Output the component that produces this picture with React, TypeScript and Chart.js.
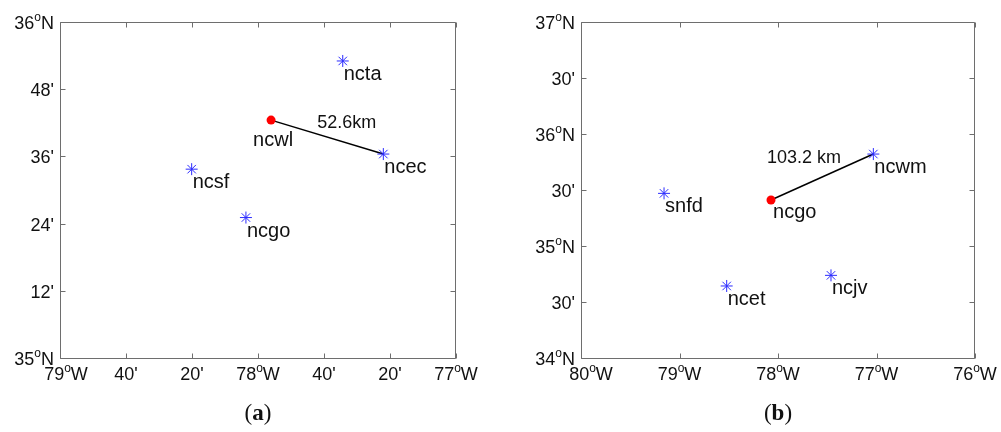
import { useEffect, useRef } from 'react';
import { Chart, registerables } from 'chart.js';

Chart.register(...registerables);

// ---------- Panel (a) data ----------
const aStations = ['ncta', 'ncec', 'ncsf', 'ncgo'];
const aStationLon = [-77.572, -77.367, -78.335, -78.061];
const aStationLat = [35.884, 35.607, 35.562, 35.418];
const aHub = 'ncwl';
const aHubLon = -77.934;
const aHubLat = 35.708;
const aLinkTo = 'ncec';
const aDistanceText = '52.6km';
const aDistanceLon = -77.552;
const aDistanceLat = 35.684;
const aXRange = [-79, -77];
const aYRange = [35, 36];
const aXTicks = [-79, -78.6667, -78.3333, -78, -77.6667, -77.3333, -77];
const aXTickLabels = ['79°W', "40'", "20'", '78°W', "40'", "20'", '77°W'];
const aYTicks = [35, 35.2, 35.4, 35.6, 35.8, 36];
const aYTickLabels = ['35°N', "12'", "24'", "36'", "48'", '36°N'];
const aCaption = 'a';

// ---------- Panel (b) data ----------
const bStations = ['ncwm', 'snfd', 'ncet', 'ncjv'];
const bStationLon = [-77.032, -79.157, -78.521, -77.462];
const bStationLat = [35.821, 35.47, 34.643, 34.738];
const bHub = 'ncgo';
const bHubLon = -78.071;
const bHubLat = 35.411;
const bLinkTo = 'ncwm';
const bDistanceText = '103.2 km';
const bDistanceLon = -77.736;
const bDistanceLat = 35.738;
const bXRange = [-80, -76];
const bYRange = [34, 37];
const bXTicks = [-80, -79, -78, -77, -76];
const bXTickLabels = ['80°W', '79°W', '78°W', '77°W', '76°W'];
const bYTicks = [34, 34.5, 35, 35.5, 36, 36.5, 37];
const bYTickLabels = ['34°N', "30'", '35°N', "30'", '36°N', "30'", '37°N'];
const bCaption = 'b';

type PanelData = {
  stations: string[];
  lon: number[];
  lat: number[];
  hub: string;
  hubLon: number;
  hubLat: number;
  linkTo: string;
  distText: string;
  distLon: number;
  distLat: number;
  xRange: number[];
  yRange: number[];
  xTicks: number[];
  xTickLabels: string[];
  yTicks: number[];
  yTickLabels: string[];
  caption: string;
};

type PanelLayout = {
  left: number;
  width: number;
  yAxisWidth: number;
  padRight: number;
  hubLabelDx: number;
  hubLabelDy: number;
  firstXLabelDx: number;
};

const panelA: PanelData = {
  stations: aStations, lon: aStationLon, lat: aStationLat,
  hub: aHub, hubLon: aHubLon, hubLat: aHubLat, linkTo: aLinkTo,
  distText: aDistanceText, distLon: aDistanceLon, distLat: aDistanceLat,
  xRange: aXRange, yRange: aYRange,
  xTicks: aXTicks, xTickLabels: aXTickLabels, yTicks: aYTicks, yTickLabels: aYTickLabels,
  caption: aCaption,
};

const panelB: PanelData = {
  stations: bStations, lon: bStationLon, lat: bStationLat,
  hub: bHub, hubLon: bHubLon, hubLat: bHubLat, linkTo: bLinkTo,
  distText: bDistanceText, distLon: bDistanceLon, distLat: bDistanceLat,
  xRange: bXRange, yRange: bYRange,
  xTicks: bXTicks, xTickLabels: bXTickLabels, yTicks: bYTicks, yTickLabels: bYTickLabels,
  caption: bCaption,
};

const layoutA: PanelLayout = { left: 0, width: 500, yAxisWidth: 60, padRight: 44, hubLabelDx: -18, hubLabelDy: 26, firstXLabelDx: 6 };
const layoutB: PanelLayout = { left: 500, width: 501, yAxisWidth: 81, padRight: 26, hubLabelDx: 2, hubLabelDy: 18, firstXLabelDx: 10 };

const HEIGHT = 432;
const PLOT_TOP = 22;
const PLOT_BOTTOM = 358;
const SANS = '"Liberation Sans", Arial, Helvetica, sans-serif';
const AXIS_COLOR = '#6e6e6e';
const TEXT_COLOR = '#111111';

function drawDegLabel(ctx: CanvasRenderingContext2D, text: string, x: number, y: number, align: 'center' | 'right') {
  const big = `18px ${SANS}`;
  const small = `12px ${SANS}`;
  const idx = text.indexOf('°');
  const parts: { t: string; font: string; dy: number }[] = [];
  if (idx >= 0) {
    parts.push({ t: text.slice(0, idx), font: big, dy: 0 });
    parts.push({ t: 'o', font: small, dy: -8 });
    parts.push({ t: text.slice(idx + 1), font: big, dy: 0 });
  } else {
    parts.push({ t: text, font: big, dy: 0 });
  }
  let total = 0;
  const widths = parts.map((p) => {
    ctx.font = p.font;
    const w = ctx.measureText(p.t).width;
    total += w;
    return w;
  });
  let cx = align === 'center' ? x - total / 2 : x - total;
  ctx.textAlign = 'left';
  ctx.textBaseline = 'alphabetic';
  parts.forEach((p, i) => {
    ctx.font = p.font;
    ctx.fillText(p.t, cx, y + p.dy);
    cx += widths[i];
  });
}

const mapDecor = {
  id: 'mapDecor',
  afterDraw(chart: any, _args: any, opts: any) {
    const data: PanelData = opts.data;
    const lay: PanelLayout = opts.layout;
    const { ctx, chartArea: a, scales } = chart;
    const xs = scales.x;
    const ys = scales.y;
    ctx.save();

    // frame
    const L = Math.floor(a.left) + 0.5;
    const T = Math.floor(a.top) + 0.5;
    const R = Math.ceil(a.right) - 0.5;
    const B = Math.floor(a.bottom) + 0.5;
    ctx.strokeStyle = AXIS_COLOR;
    ctx.lineWidth = 1;
    ctx.beginPath();
    ctx.moveTo(L, T); ctx.lineTo(R, T); ctx.lineTo(R, B); ctx.lineTo(L, B); ctx.closePath();
    ctx.stroke();

    // inward ticks on all four sides
    const TL = 5;
    ctx.beginPath();
    data.xTicks.forEach((v) => {
      const px = Math.round(xs.getPixelForValue(v)) + 0.5;
      ctx.moveTo(px, B); ctx.lineTo(px, B - TL);
      ctx.moveTo(px, T); ctx.lineTo(px, T + TL);
    });
    data.yTicks.forEach((v) => {
      const py = Math.round(ys.getPixelForValue(v)) + 0.5;
      ctx.moveTo(L, py); ctx.lineTo(L + TL, py);
      ctx.moveTo(R, py); ctx.lineTo(R - TL, py);
    });
    ctx.stroke();

    // tick labels
    ctx.fillStyle = TEXT_COLOR;
    data.xTicks.forEach((v, i) => {
      const px = xs.getPixelForValue(v) + (i === 0 ? lay.firstXLabelDx : 0);
      drawDegLabel(ctx, data.xTickLabels[i], px, a.bottom + 22, 'center');
    });
    data.yTicks.forEach((v, i) => {
      const py = ys.getPixelForValue(v);
      drawDegLabel(ctx, data.yTickLabels[i], a.left - 6, py + 7, 'right');
    });

    // station labels
    ctx.font = `20px ${SANS}`;
    ctx.textAlign = 'left';
    ctx.textBaseline = 'alphabetic';
    data.stations.forEach((name, i) => {
      const px = xs.getPixelForValue(data.lon[i]);
      const py = ys.getPixelForValue(data.lat[i]);
      ctx.fillText(name, px + 1, py + 19);
    });
    const hx = xs.getPixelForValue(data.hubLon);
    const hy = ys.getPixelForValue(data.hubLat);
    ctx.fillText(data.hub, hx + lay.hubLabelDx, hy + lay.hubLabelDy);

    // distance label
    ctx.font = `18px ${SANS}`;
    ctx.textAlign = 'center';
    ctx.fillText(data.distText, xs.getPixelForValue(data.distLon), ys.getPixelForValue(data.distLat));

    // caption
    const capX = xs.getPixelForValue((data.xRange[0] + data.xRange[1]) / 2);
    ctx.textAlign = 'left';
    const serif = '"Liberation Serif", "Times New Roman", serif';
    const sz = 23;
    ctx.font = `${sz}px ${serif}`;
    const wOpen = ctx.measureText('(').width;
    const wClose = ctx.measureText(')').width;
    ctx.font = `bold ${sz}px ${serif}`;
    const wMid = ctx.measureText(data.caption).width;
    let cx = capX - (wOpen + wMid + wClose) / 2;
    const capY = 420;
    ctx.font = `${sz}px ${serif}`;
    ctx.fillText('(', cx, capY);
    cx += wOpen;
    ctx.font = `bold ${sz}px ${serif}`;
    ctx.fillText(data.caption, cx, capY);
    cx += wMid;
    ctx.font = `${sz}px ${serif}`;
    ctx.fillText(')', cx, capY);

    ctx.restore();
  },
};

function MapPanel({ data, layout }: { data: PanelData; layout: PanelLayout }) {
  const ref = useRef<HTMLCanvasElement | null>(null);
  useEffect(() => {
    if (!ref.current) return;
    const target = data.stations.indexOf(data.linkTo);
    const chart = new Chart(ref.current, {
      type: 'scatter',
      data: {
        datasets: [
          {
            label: 'stations',
            data: data.stations.map((_, i) => ({ x: data.lon[i], y: data.lat[i] })),
            pointStyle: 'star',
            pointRadius: 6,
            borderColor: '#2b2bff',
            backgroundColor: '#2b2bff',
            borderWidth: 1,
            order: 1,
          },
          {
            label: 'hub',
            data: [{ x: data.hubLon, y: data.hubLat }],
            pointStyle: 'circle',
            pointRadius: 4.5,
            borderColor: '#ff0000',
            backgroundColor: '#ff0000',
            borderWidth: 0,
            order: 2,
          },
          {
            label: 'link',
            type: 'line',
            data: [
              { x: data.hubLon, y: data.hubLat },
              { x: data.lon[target], y: data.lat[target] },
            ],
            borderColor: '#000000',
            borderWidth: 1.5,
            pointRadius: 0,
            showLine: true,
            fill: false,
            order: 3,
          } as any,
        ],
      },
      options: {
        animation: false,
        responsive: false,
        maintainAspectRatio: false,
        events: [],
        layout: { padding: { left: 0, right: layout.padRight, top: PLOT_TOP, bottom: 0 } },
        plugins: {
          legend: { display: false },
          tooltip: { enabled: false },
          mapDecor: { data, layout },
        } as any,
        scales: {
          x: {
            type: 'linear',
            min: data.xRange[0],
            max: data.xRange[1],
            ticks: { display: false },
            grid: { display: false },
            border: { display: false },
            afterFit: (s: any) => { s.height = HEIGHT - PLOT_BOTTOM; },
          },
          y: {
            type: 'linear',
            min: data.yRange[0],
            max: data.yRange[1],
            ticks: { display: false },
            grid: { display: false },
            border: { display: false },
            afterFit: (s: any) => { s.width = layout.yAxisWidth; },
          },
        },
      },
      plugins: [mapDecor],
    });
    return () => chart.destroy();
  }, [data, layout]);
  return (
    <canvas
      ref={ref}
      width={layout.width}
      height={HEIGHT}
      style={{ position: 'absolute', left: layout.left, top: 0, width: layout.width, height: HEIGHT, display: 'block' }}
    />
  );
}

export default function App() {
  return (
    <div style={{ position: 'fixed', left: 0, top: 0, width: 1001, height: HEIGHT, background: '#ffffff', overflow: 'hidden' }}>
      <MapPanel data={panelA} layout={layoutA} />
      <MapPanel data={panelB} layout={layoutB} />
    </div>
  );
}
